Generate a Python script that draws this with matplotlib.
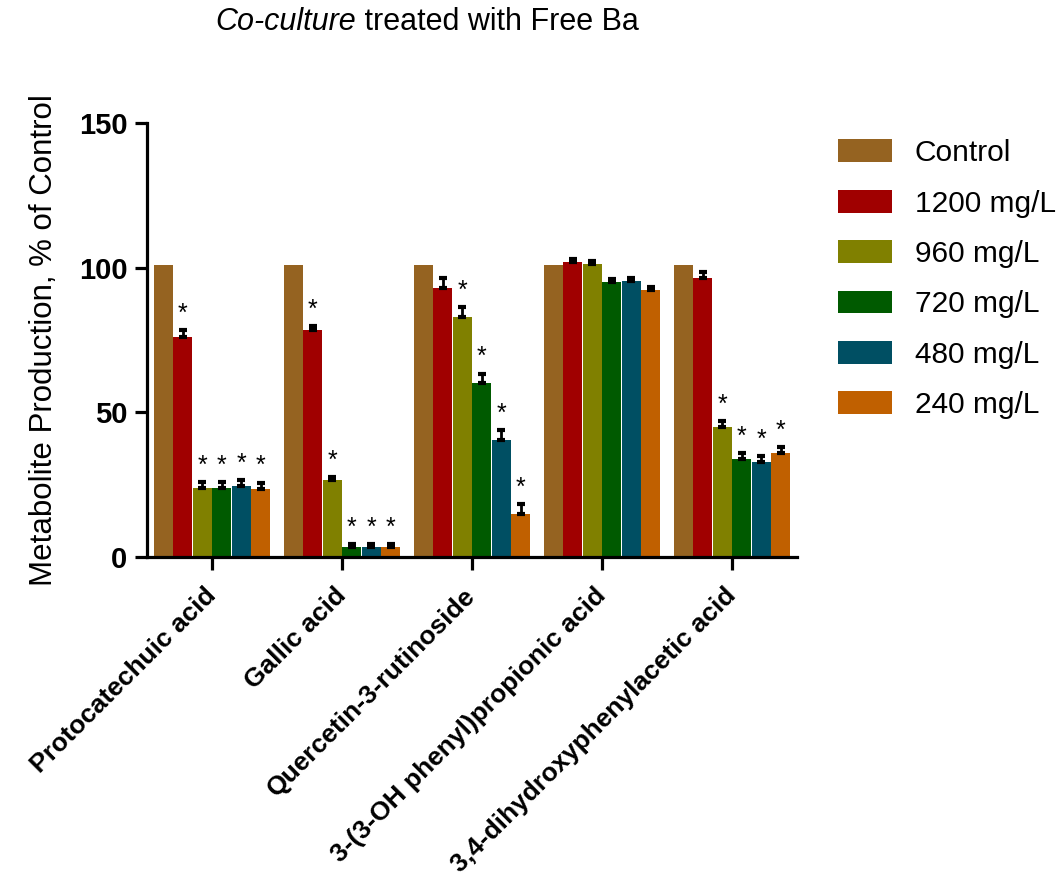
import numpy as np
import matplotlib
matplotlib.use("Agg")
import matplotlib.pyplot as plt
from matplotlib.patches import Patch

plt.rcParams['font.family'] = ['Liberation Sans', 'DejaVu Sans']

metabolites = ["Protocatechuic acid", "Gallic acid", "Quercetin-3-rutinoside",
               "3-(3-OH phenyl)propionic acid", "3,4-dihydroxyphenylacetic acid"]
treatments = ["Control", "1200 mg/L", "960 mg/L", "720 mg/L", "480 mg/L", "240 mg/L"]
colors = ["#956321", "#A00000", "#808000", "#005A00", "#004F63", "#C06000"]

# mean % of control, one list per treatment (order follows metabolites)
control = [101, 101, 101, 101, 101]
dose_1200 = [76, 78.5, 93, 102, 96.5]
dose_960 = [24, 26.5, 83, 101.3, 45]
dose_720 = [24, 3.5, 60, 95.2, 34]
dose_480 = [24.5, 3.5, 40.5, 95.4, 33]
dose_240 = [23.5, 3.5, 15, 92.4, 36]

# SEM (upper error bars only)
err_control = [0, 0, 0, 0, 0]
err_1200 = [2.3, 1.2, 3.4, 1.0, 2.0]
err_960 = [2.0, 1.0, 3.5, 1.0, 2.0]
err_720 = [2.0, 1.0, 3.4, 1.0, 2.0]
err_480 = [2.0, 1.0, 3.4, 1.0, 2.0]
err_240 = [2.2, 1.0, 3.4, 1.0, 2.0]

# significance flags (* vs control)
sig_1200 = [1, 1, 0, 0, 0]
sig_960 = [1, 1, 1, 0, 1]
sig_720 = [1, 1, 1, 0, 1]
sig_480 = [1, 1, 1, 0, 1]
sig_240 = [1, 1, 1, 0, 1]

values = [control, dose_1200, dose_960, dose_720, dose_480, dose_240]
errors = [err_control, err_1200, err_960, err_720, err_480, err_240]
sigs = [[0] * 5, sig_1200, sig_960, sig_720, sig_480, sig_240]

fig = plt.figure(figsize=(10.62, 8.75), dpi=100)
ax = fig.add_axes([0.1384, 0.3634, 0.612, 0.496])

x = np.arange(len(metabolites))
width = 0.15
for j, (vals, errs, sg, c) in enumerate(zip(values, errors, sigs, colors)):
    pos = x + (j - 2.5) * width
    ax.bar(pos, vals, width=width * 0.97, color=c, edgecolor='none', zorder=2)
    if any(errs):
        ax.errorbar(pos, vals, yerr=[np.zeros(len(errs)), errs], fmt='none',
                    ecolor='black', elinewidth=2.0, capsize=3.2, capthick=3.0, zorder=3)
    for p, v, e, s in zip(pos, vals, errs, sg):
        if s:
            ax.text(p, v + e + 1.5, '*', ha='center', va='bottom', fontsize=18,
                    color='black')

ax.set_xlim(-0.5, 4.5)
ax.set_ylim(0, 150)
ax.set_yticks([0, 50, 100, 150])
ax.set_xticks(x)
ax.set_xticklabels(metabolites, rotation=45, ha='right', va='center',
                   rotation_mode='anchor', fontsize=19, fontweight='bold')
for lab in ax.get_yticklabels():
    lab.set_fontsize(21)
    lab.set_fontweight('bold')

for side in ['top', 'right']:
    ax.spines[side].set_visible(False)
for side in ['left', 'bottom']:
    ax.spines[side].set_linewidth(2.3)
ax.tick_params(axis='both', direction='out', length=9, width=2.3)
ax.tick_params(axis='y', pad=5)
ax.tick_params(axis='x', pad=16)

ax.set_ylabel("Metabolite Production, % of Control", fontsize=22.5, labelpad=14)

# title with italic "Co-culture"
t1 = fig.text(0.2025, 0.958, "Co-culture", fontsize=22, style='italic',
              ha='left', va='bottom')
ax.annotate(" treated with Free Ba", xy=(1, 0), xycoords=t1, fontsize=22,
            ha='left', va='bottom', annotation_clip=False)

handles = [Patch(facecolor=c, edgecolor='none') for c in colors]
fig.legend(handles, treatments, loc='upper left', bbox_to_anchor=(0.789, 0.841),
           frameon=False, fontsize=21.5, handlelength=1.81, handleheight=0.8,
           handletextpad=0.77, labelspacing=0.75, borderaxespad=0, borderpad=0)

fig.savefig("out.png", dpi=100)
